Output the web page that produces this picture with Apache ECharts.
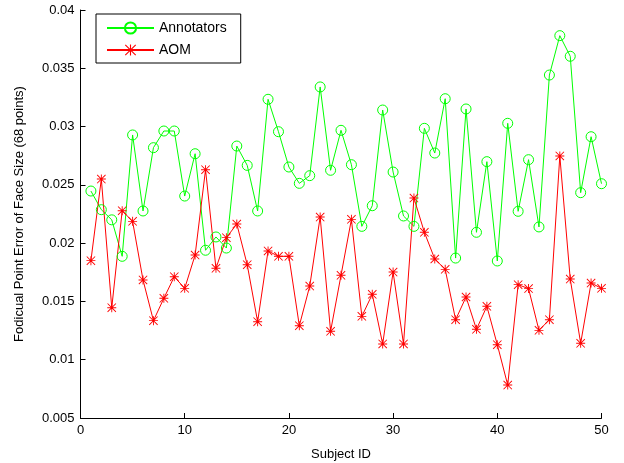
<!DOCTYPE html>
<html><head><meta charset="utf-8">
<script src="https://cdn.jsdelivr.net/npm/echarts@6/dist/echarts.min.js"></script>
<style>html,body{margin:0;padding:0;background:#fff}#c{width:624px;height:463px}</style>
</head><body><div id="c"></div>
<script>
const subjects = [1,2,3,4,5,6,7,8,9,10,11,12,13,14,15,16,17,18,19,20,21,22,23,24,25,26,27,28,29,30,31,32,33,34,35,36,37,38,39,40,41,42,43,44,45,46,47,48,49,50];
const annotators = [0.02447,0.02287,0.0220,0.01887,0.02928,0.02276,0.02819,0.02962,0.02962,0.02404,
  0.02767,0.01939,0.02053,0.01958,0.02833,0.02667,0.02276,0.03234,0.02956,0.02653,
  0.02513,0.02579,0.0334,0.02625,0.02968,0.02673,0.02144,0.02321,0.03142,0.0261,
  0.02233,0.02144,0.02985,0.02773,0.03239,0.01872,0.03151,0.02093,0.02699,0.01847,
  0.03028,0.02273,0.02716,0.02139,0.03442,0.0378,0.03603,0.02433,0.02913,0.0251];
const aom = [0.0185,0.0255,0.01446,0.02278,0.02187,0.01684,0.01335,0.01527,0.01712,0.01612,
  0.01898,0.0263,0.01784,0.02047,0.02164,0.01815,0.01326,0.01933,0.01887,0.01887,
  0.01292,0.01632,0.02224,0.01244,0.01724,0.02204,0.01372,0.01561,0.01135,0.01752,
  0.01135,0.02387,0.02093,0.01864,0.01775,0.01343,0.01538,0.01261,0.01458,0.01129,
  0.00783,0.01644,0.0161,0.01252,0.01343,0.02748,0.01692,0.01141,0.01658,0.01612];
const seriesNames = ['Annotators','AOM'];
const xTicks = [0,10,20,30,40,50];
const yTicks = [0.005,0.01,0.015,0.02,0.025,0.03,0.035,0.04];

const star = 'path://M9 0L11 0L11 20L9 20Z M0 9L20 9L20 11L0 11Z M0 1.4L1.4 0L20 18.6L18.6 20Z M18.6 0L20 1.4L1.4 20L0 18.6Z';
const font = 'Liberation Sans, Arial, sans-serif';
const chart = echarts.init(document.getElementById('c'), null, {renderer:'canvas'});
chart.setOption({
  animation:false,
  backgroundColor:'#fff',
  grid:{left:80.5,right:22.5,top:10,bottom:45,outerBoundsMode:'none',containLabel:false},
  legend:{
    left:96, top:14, orient:'vertical',
    data:seriesNames,
    itemWidth:47, itemHeight:14, itemGap:8,
    padding:[7,14,6,10],
    borderColor:'#000', borderWidth:1, backgroundColor:'#fff',
    textStyle:{fontFamily:font,fontSize:14,color:'#000'}
  },
  xAxis:{
    type:'value', min:xTicks[0], max:xTicks[xTicks.length-1], interval:10,
    name:'Subject ID', nameLocation:'middle', nameGap:30,
    nameTextStyle:{fontFamily:font,fontSize:13,color:'#000'},
    axisLine:{lineStyle:{color:'#000',width:1}},
    axisTick:{inside:true,length:5,lineStyle:{color:'#000'}},
    axisLabel:{fontFamily:font,fontSize:13,color:'#000',margin:6},
    splitLine:{show:false}
  },
  yAxis:{
    type:'value', min:yTicks[0], max:yTicks[yTicks.length-1], interval:0.005,
    name:'Fodicual Point Error of Face Size (68 points)', nameLocation:'middle', nameGap:55,
    nameTextStyle:{fontFamily:font,fontSize:13,color:'#000'},
    axisLine:{show:true,lineStyle:{color:'#000',width:1}},
    axisTick:{show:true,inside:true,length:5,lineStyle:{color:'#000'}},
    axisLabel:{fontFamily:font,fontSize:13,color:'#000',margin:6,
      formatter:v=>String(parseFloat(v.toFixed(3)))},
    splitLine:{show:false}
  },
  series:[
    {name:seriesNames[0], type:'line', data:subjects.map((s,i)=>[s,annotators[i]]),
     symbol:'circle', symbolSize:10, showAllSymbol:true,
     itemStyle:{color:'rgba(255,255,255,0)',borderColor:'#00ff00',borderWidth:1},
     lineStyle:{color:'#00ff00',width:1}},
    {name:seriesNames[1], type:'line', data:subjects.map((s,i)=>[s,aom[i]]),
     symbol:star, symbolSize:9, showAllSymbol:true,
     itemStyle:{color:'#ff0000',borderWidth:0},
     lineStyle:{color:'#ff0000',width:1}}
  ]
});
</script></body></html>
